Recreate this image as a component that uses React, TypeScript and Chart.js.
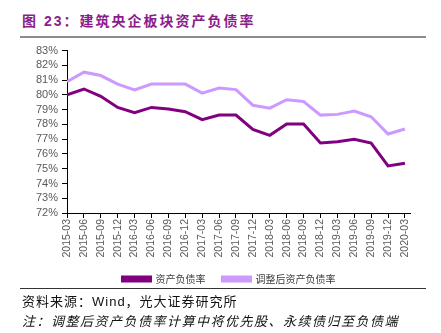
import React, { useEffect, useRef } from "react";
import { Chart, registerables } from "chart.js";

Chart.register(...registerables);

const categories = [
  "2015-03", "2015-06", "2015-09", "2015-12",
  "2016-03", "2016-06", "2016-09", "2016-12",
  "2017-03", "2017-06", "2017-09", "2017-12",
  "2018-03", "2018-06", "2018-09", "2018-12",
  "2019-03", "2019-06", "2019-09", "2019-12",
  "2020-03",
];
const debtRatio = [
  80.0, 80.4, 79.9, 79.15, 78.8, 79.15, 79.05, 78.86, 78.32, 78.63, 78.63,
  77.66, 77.26, 78.03, 78.03, 76.74, 76.83, 76.99, 76.74, 75.19, 75.37,
];
const adjustedDebtRatio = [
  80.9, 81.54, 81.31, 80.73, 80.34, 80.73, 80.73, 80.73, 80.12, 80.46, 80.36,
  79.3, 79.1, 79.67, 79.55, 78.63, 78.68, 78.9, 78.52, 77.35, 77.69,
];
const seriesNames = ["资产负债率", "调整后资产负债率"];
const yTicks = [72, 73, 74, 75, 76, 77, 78, 79, 80, 81, 82, 83];

const TITLE = "图 23：建筑央企板块资产负债率";
const SOURCE = "资料来源：Wind，光大证券研究所";
const NOTE = "注：调整后资产负债率计算中将优先股、永续债归至负债端";

const legendShift = {
  id: "legendShift",
  afterUpdate(chart: any) {
    const lg = chart.legend;
    if (lg) {
      lg.left += 24;
      lg.right += 24;
    }
  },
};

export default function App() {
  const canvasRef = useRef<HTMLCanvasElement | null>(null);

  useEffect(() => {
    if (!canvasRef.current) return;
    const chart = new Chart(canvasRef.current, {
      type: "line",
      data: {
        datasets: [
          {
            label: seriesNames[0],
            data: debtRatio.map((v, i) => ({ x: i, y: v })),
            borderColor: "#800080",
            backgroundColor: "#800080",
            borderWidth: 3,
            pointRadius: 0,
            tension: 0,
          },
          {
            label: seriesNames[1],
            data: adjustedDebtRatio.map((v, i) => ({ x: i, y: v })),
            borderColor: "#CC99FF",
            backgroundColor: "#CC99FF",
            borderWidth: 3,
            pointRadius: 0,
            tension: 0,
          },
        ],
      },
      plugins: [legendShift],
      options: {
        animation: false,
        responsive: false,
        maintainAspectRatio: false,
        layout: { padding: { top: 8, right: 31, left: 0, bottom: 0 } },
        plugins: {
          tooltip: { enabled: false },
          legend: {
            position: "bottom",
            labels: {
              boxWidth: 28,
              boxHeight: 4,
              color: "#404040",
              padding: 17,
              font: { family: "'Noto Sans CJK SC'", size: 10 },
            },
          },
        },
        scales: {
          x: {
            type: "linear",
            min: 0,
            max: categories.length - 1 + 0.3,
            afterBuildTicks: (scale: any) => {
              scale.ticks = categories.map((_, i) => ({ value: i }));
            },
            afterFit: (scale: any) => {
              scale.height = 44;
            },
            ticks: {
              autoSkip: false,
              minRotation: 90,
              maxRotation: 90,
              padding: 1,
              color: "#595959",
              font: { family: "'Liberation Sans', Arial", size: 10.5 },
              callback: (v: any) => categories[v as number] ?? "",
            },
            grid: {
              drawOnChartArea: false,
              drawTicks: true,
              tickLength: 5,
              tickColor: "#000",
            },
            border: { display: true, color: "#000", width: 1 },
          },
          y: {
            min: 72,
            max: 83,
            afterBuildTicks: (scale: any) => {
              scale.ticks = yTicks.map((v) => ({ value: v }));
            },
            afterFit: (scale: any) => {
              scale.width = 67;
            },
            ticks: {
              autoSkip: false,
              padding: 4,
              color: "#595959",
              font: { family: "'Liberation Sans', Arial", size: 11 },
              callback: (v: any) => `${v}%`,
            },
            grid: {
              drawOnChartArea: false,
              drawTicks: true,
              tickLength: 5,
              tickColor: "#000",
            },
            border: { display: true, color: "#000", width: 1 },
          },
        },
      },
    });
    return () => chart.destroy();
  }, []);

  return (
    <div
      style={{
        position: "absolute",
        left: 0,
        top: 0,
        width: 441,
        height: 333,
        background: "#fff",
        overflow: "hidden",
      }}
    >
      <div
        style={{
          position: "absolute",
          left: 22,
          top: 11,
          fontFamily: "'Liberation Sans', 'Noto Sans CJK SC', sans-serif",
          fontWeight: "bold",
          fontSize: 14,
          letterSpacing: 2,
          color: "#8B1C8B",
          whiteSpace: "nowrap",
          lineHeight: "20px",
        }}
      >
        {TITLE}
      </div>
      <div
        style={{
          position: "absolute",
          left: 20,
          top: 36,
          width: 406,
          height: 2,
          background: "#8c8c8c",
        }}
      />
      <canvas
        ref={canvasRef}
        width={441}
        height={254}
        style={{ position: "absolute", left: 0, top: 40, width: 441, height: 254 }}
      />
      <div
        style={{
          position: "absolute",
          left: 20,
          top: 288,
          width: 406,
          height: 1,
          background: "#333",
        }}
      />
      <div
        style={{
          position: "absolute",
          left: 22,
          top: 293,
          fontFamily: "'Liberation Sans', 'Noto Sans CJK SC', sans-serif",
          fontSize: 13,
          letterSpacing: 1,
          color: "#111",
          whiteSpace: "nowrap",
          lineHeight: "18px",
        }}
      >
        {SOURCE}
      </div>
      <div
        style={{
          position: "absolute",
          left: 22,
          top: 312,
          fontFamily: "'Noto Sans CJK SC', sans-serif",
          fontSize: 13,
          fontStyle: "italic",
          letterSpacing: 1.5,
          color: "#111",
          whiteSpace: "nowrap",
          lineHeight: "18px",
        }}
      >
        {NOTE}
      </div>
    </div>
  );
}
